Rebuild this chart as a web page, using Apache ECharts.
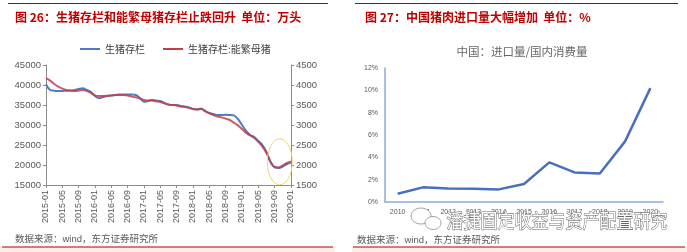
<!DOCTYPE html>
<html><head><meta charset="utf-8">
<script src="https://cdn.jsdelivr.net/npm/echarts@6/dist/echarts.min.js"></script>
<style>html,body{margin:0;padding:0;background:#fff}#c{width:687px;height:252px}</style>
</head><body><div id="c"></div>
<script>
const months = ['2015-01','2015-02','2015-03','2015-04','2015-05','2015-06','2015-07','2015-08','2015-09','2015-10','2015-11','2015-12',
'2016-01','2016-02','2016-03','2016-04','2016-05','2016-06','2016-07','2016-08','2016-09','2016-10','2016-11','2016-12',
'2017-01','2017-02','2017-03','2017-04','2017-05','2017-06','2017-07','2017-08','2017-09','2017-10','2017-11','2017-12',
'2018-01','2018-02','2018-03','2018-04','2018-05','2018-06','2018-07','2018-08','2018-09','2018-10','2018-11','2018-12',
'2019-01','2019-02','2019-03','2019-04','2019-05','2019-06','2019-07','2019-08','2019-09','2019-10','2019-11','2019-12',
'2020-01'];
const hogStock = [40200,38750,38575,38500,38500,38575,38600,38750,39000,39200,
38750,38250,37250,36700,37000,37250,37400,37500,37600,37650,
37650,37650,37500,36750,35800,36000,36250,36100,36000,35500,
35100,35000,35000,34750,34600,34400,34000,33900,34100,33500,
33000,32750,32500,32500,32550,32500,32400,31500,30000,28500,
27500,27000,26000,25000,23250,20750,19400,19250,19600,20250,20600];
const sowStock = [4170,4110,4025,3960,3910,3875,3860,3850,3860,3875,
3850,3800,3740,3725,3725,3730,3740,3750,3750,3750,
3740,3710,3690,3660,3625,3610,3610,3590,3575,3540,
3510,3500,3490,3460,3450,3425,3400,3390,3400,3340,
3290,3250,3210,3190,3160,3125,3060,2990,2900,2800,
2740,2675,2575,2460,2300,2075,1950,1940,1990,2050,2090];
const years = ['2010','2011','2012','2013','2014','2015','2016','2017','2018','2019','2020'];
const importRatio = [0.74,1.31,1.22,1.19,1.13,1.61,3.55,2.65,2.56,5.43,10.2];

const FONT = 'Liberation Sans, "Noto Sans CJK SC", sans-serif';
const CJK = '"Noto Sans CJK SC", sans-serif';
const axisGray = '#8c8c8c';
const labelGray = '#595959';
const darkRed = '#b40000';
const blueAxis = '#8eaadb';
const plain = v => String(v);

const chart = echarts.init(document.getElementById('c'), null, {renderer:'canvas'});
const option = {
  animation:false,
  backgroundColor:'#fff',
  textStyle:{fontFamily:FONT},
  title:[
    {text:'图 26：生猪存栏和能繁母猪存栏止跌回升  单位：万头', left:10, top:6,
      textStyle:{fontSize:12, fontWeight:'bold', color:'#c00000', fontFamily:CJK}},
    {text:'图 27：中国猪肉进口量大幅增加  单位：%', left:360, top:6,
      textStyle:{fontSize:12, fontWeight:'bold', color:'#c00000', fontFamily:CJK}},
    {text:'中国：进口量/国内消费量', left:517, textAlign:'center', top:41,
      textStyle:{fontSize:11.5, fontWeight:'normal', color:'#666', fontFamily:CJK}},
    {text:'数据来源：wind，东方证券研究所', left:10, top:230,
      textStyle:{fontSize:9.5, fontWeight:'normal', color:labelGray, fontFamily:FONT}},
    {text:'数据来源：wind，东方证券研究所', left:352, top:231,
      textStyle:{fontSize:9.5, fontWeight:'normal', color:labelGray, fontFamily:FONT}}
  ],
  legend:{
    data:['生猪存栏','生猪存栏:能繁母猪'],
    left:75, top:39, itemWidth:20, itemHeight:2, itemGap:18,
    icon:'rect',
    textStyle:{fontSize:10, color:'#404040', fontFamily:CJK}
  },
  grid:[
    {left:46, top:65, width:245, height:120},
    {left:385, top:68, width:278, height:134}
  ],
  xAxis:[
    {gridIndex:0, type:'category', data:months, boundaryGap:false,
      axisLine:{lineStyle:{color:axisGray, width:1}},
      axisTick:{interval:3, length:3, lineStyle:{color:axisGray}},
      axisLabel:{interval:3, rotate:90, fontSize:9, color:labelGray, margin:5}},
    {gridIndex:1, type:'category', data:years, boundaryGap:true,
      axisLine:{lineStyle:{color:blueAxis, width:1.5}},
      axisTick:{length:3, lineStyle:{color:blueAxis}},
      axisLabel:{fontSize:7, color:labelGray, margin:7}}
  ],
  yAxis:[
    {gridIndex:0, type:'value', min:15000, max:45000, interval:5000, position:'left',
      splitLine:{show:false},
      axisLine:{show:true, lineStyle:{color:axisGray}},
      axisTick:{show:true, length:3, lineStyle:{color:axisGray}},
      axisLabel:{fontSize:9.5, color:labelGray, margin:5, formatter:plain}},
    {gridIndex:0, type:'value', min:1500, max:4500, interval:500, position:'right',
      splitLine:{show:false},
      axisLine:{show:true, lineStyle:{color:axisGray}},
      axisTick:{show:true, length:3, lineStyle:{color:axisGray}},
      axisLabel:{fontSize:9.5, color:labelGray, margin:5, formatter:plain}},
    {gridIndex:1, type:'value', min:0, max:12, interval:2,
      splitLine:{show:false},
      axisLine:{show:true, lineStyle:{color:blueAxis, width:1.5}},
      axisTick:{show:false},
      axisLabel:{fontSize:7, color:labelGray, margin:7, formatter:'{value}%'}}
  ],
  series:[
    {name:'生猪存栏', type:'line', xAxisIndex:0, yAxisIndex:0, data:hogStock,
      symbol:'none', smooth:0.35, lineStyle:{color:'#4f7bc4', width:2}, itemStyle:{color:'#4f7bc4'}, z:2},
    {name:'生猪存栏:能繁母猪', type:'line', xAxisIndex:0, yAxisIndex:1, data:sowStock,
      symbol:'none', smooth:0.35, lineStyle:{color:'#c0404a', width:2, opacity:0.85}, itemStyle:{color:'#c0404a'}, z:3},
    {name:'进口量/国内消费量', type:'line', xAxisIndex:1, yAxisIndex:2, data:importRatio,
      symbol:'none', lineStyle:{color:'#4a6fbd', width:2.5}, itemStyle:{color:'#4a6fbd'}}
  ]
};
chart.setOption(option);

// Annotation ellipse around latest rebound, positioned through the axes
const c1 = chart.convertToPixel({xAxisIndex:0, yAxisIndex:0}, [months[58], 20800]);
const c0 = chart.convertToPixel({xAxisIndex:0, yAxisIndex:0}, [months[57], 20800]);
const cx = (c0[0]+c1[0])/2 - 1;

chart.setOption({
  graphic:[
    {type:'line', shape:{x1:8,y1:3.5,x2:328,y2:3.5}, style:{stroke:darkRed, lineWidth:1}, silent:true},
    {type:'line', shape:{x1:355,y1:3.5,x2:678,y2:3.5}, style:{stroke:darkRed, lineWidth:1}, silent:true},
    {type:'rect', shape:{x:0,y:247,width:335,height:5}, style:{fill:'#fcecea'}, silent:true, z:0},
    {type:'rect', shape:{x:352,y:247,width:335,height:5}, style:{fill:'#fcecea'}, silent:true, z:0},
    {type:'line', shape:{x1:2,y1:247,x2:333,y2:247}, style:{stroke:darkRed, lineWidth:1}, silent:true},
    {type:'line', shape:{x1:353,y1:247,x2:685,y2:247}, style:{stroke:darkRed, lineWidth:1}, silent:true},
    {type:'ellipse', shape:{cx:cx, cy:c1[1], rx:12.5, ry:23}, style:{fill:null, stroke:'#f2d675', lineWidth:1}, silent:true, z:10},
    // watermark
    {type:'ellipse', shape:{cx:421, cy:216, rx:10, ry:8}, style:{fill:'#fff', stroke:'#8a8a8a', lineWidth:0.8}, silent:true, z:20},
    {type:'ellipse', shape:{cx:433, cy:223, rx:8, ry:6.5}, style:{fill:'#fff', stroke:'#8a8a8a', lineWidth:0.8}, silent:true, z:21},
    {type:'text', x:557, y:221, scaleY:1.15,
      style:{text:'潘捷固定收益与资产配置研究', fontSize:17, fontFamily:CJK, fill:'#ffffff', stroke:'#6a6a6a', lineWidth:0.9,
        textAlign:'center', textVerticalAlign:'middle'}, silent:true, z:22}
  ]
});
</script></body></html>
